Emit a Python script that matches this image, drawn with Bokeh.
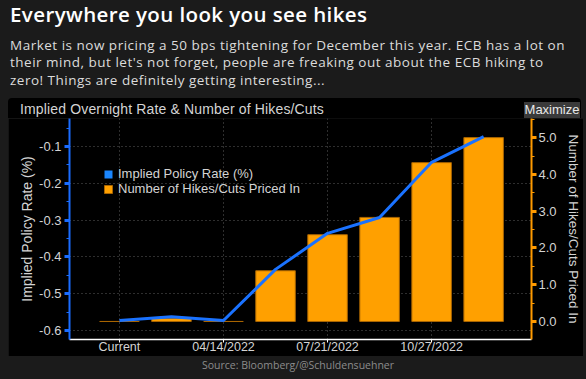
from bokeh.plotting import figure
from bokeh.models import (Range1d, LinearAxis, FixedTicker, PrintfTickFormatter,
                          Legend, LegendItem, ColumnDataSource, Div)
from bokeh.layouts import column
from bokeh.embed import file_html
from bokeh.resources import INLINE

# ---------------- data ----------------
meetings = ["Current", "03/10/2022", "04/14/2022", "06/09/2022",
            "07/21/2022", "09/08/2022", "10/27/2022", "12/15/2022"]
xpos = [0, 1, 2, 3, 4, 5, 6, 7]
implied_rate = [-0.573, -0.563, -0.573, -0.434, -0.336, -0.293, -0.143, -0.073]
hikes_priced = [0.0, 0.09, 0.0, 1.38, 2.36, 2.83, 4.32, 5.0]

x_tick_pos = [0, 2, 4, 6]
x_tick_labels = ["Current", "04/14/2022", "07/21/2022", "10/27/2022"]
left_ticks = [-0.6, -0.5, -0.4, -0.3, -0.2, -0.1]
left_minor = [-0.6, -0.55, -0.5, -0.45, -0.4, -0.35, -0.3, -0.25, -0.2, -0.15, -0.1, -0.05]
right_ticks = [0, 1, 2, 3, 4, 5]
right_minor = [-0.5, 0, 0.5, 1, 1.5, 2, 2.5, 3, 3.5, 4, 4.5, 5, 5.5]

title_text = "Everywhere you look you see hikes"
subtitle_lines = ["Market is now pricing a 50 bps tightening for December this year. ECB has a lot on",
                  "their mind, but let's not forget, people are freaking out about the ECB hiking to",
                  "zero! Things are definitely getting interesting..."]
chart_title = "Implied Overnight Rate &amp; Number of Hikes/Cuts"
button_text = "Maximize"
source_text = "Source: Bloomberg/@Schuldensuehner"

src = ColumnDataSource(dict(x=xpos, rate=implied_rate, hikes=hikes_priced,
                            label=meetings))

CF = "Liberation Sans"
TXT = "#d4d4d4"
PANEL_W = 573

p = figure(frame_width=462, frame_height=221, x_range=Range1d(-0.96, 7.92),
           y_range=Range1d(-0.6245, -0.024), title=None,
           output_backend="svg", toolbar_location=None,
           min_border_left=61, min_border_right=PANEL_W - 61 - 462, min_border_top=0,
           min_border_bottom=16,
           background_fill_color="black", border_fill_color="black",
           outline_line_color=None, margin=0)
p.extra_y_ranges = {"hikes": Range1d(-0.49, 5.52)}

# bars (right axis) then line (left axis)
bars = p.vbar(x="x", top="hikes", bottom=0, width=0.76, source=src,
              y_range_name="hikes", fill_color="#ffa000", line_color="#a86400",
              line_width=1)
line = p.line(x="x", y="rate", source=src, line_color="#1a72ff", line_width=3)
# zero-size glyph used only as the blue legend swatch
legend_blue = p.vbar(x="x", top="rate", bottom="rate", width=0, source=src,
                     fill_color="#1a86ff", line_color=None)

# bottom axis
xa = p.xaxis[0]
xa.ticker = FixedTicker(ticks=x_tick_pos)
xa.major_label_overrides = {t: l for t, l in zip(x_tick_pos, x_tick_labels)}
xa.axis_line_color = "white"
xa.axis_line_width = 1.5
xa.major_tick_line_color = "white"
xa.major_tick_out = 3
xa.major_tick_in = 0
xa.minor_tick_line_color = None
xa.major_label_standoff = -3
xa.major_label_text_color = TXT
xa.major_label_text_font = CF
xa.major_label_text_font_size = "12.5px"

# left axis
ya = p.yaxis[0]
ya.ticker = FixedTicker(ticks=left_ticks, minor_ticks=left_minor)
ya.formatter = PrintfTickFormatter(format="%.1f")
ya.axis_line_color = "#1a6cff"
ya.axis_line_width = 2
ya.major_tick_line_color = "#1a6cff"
ya.major_tick_line_width = 3
ya.major_tick_out = 5
ya.major_tick_in = 0
ya.minor_tick_line_color = "#1a6cff"
ya.minor_tick_out = 3
ya.minor_tick_in = 0
ya.major_label_standoff = 3
ya.major_label_text_color = TXT
ya.major_label_text_font = CF
ya.major_label_text_font_size = "13px"
ya.axis_label = "Implied Policy Rate (%)"
ya.axis_label_text_color = TXT
ya.axis_label_text_font = CF
ya.axis_label_text_font_size = "14px"
ya.axis_label_text_font_style = "normal"
ya.axis_label_standoff = 1

# right axis
ra = LinearAxis(y_range_name="hikes",
                ticker=FixedTicker(ticks=right_ticks, minor_ticks=right_minor),
                formatter=PrintfTickFormatter(format="%.1f"))
ra.axis_line_color = "#ff9a00"
ra.axis_line_width = 2
ra.major_tick_line_color = "#ff9a00"
ra.major_tick_line_width = 3
ra.major_tick_out = 5
ra.major_tick_in = 0
ra.minor_tick_line_color = "#ff9a00"
ra.minor_tick_out = 3
ra.minor_tick_in = 0
ra.major_label_standoff = 2
ra.major_label_text_color = TXT
ra.major_label_text_font = CF
ra.major_label_text_font_size = "13px"
ra.axis_label = "Number of Hikes/Cuts Priced In"
ra.axis_label_text_color = TXT
ra.axis_label_text_font = CF
ra.axis_label_text_font_size = "13.5px"
ra.axis_label_text_font_style = "normal"
ra.axis_label_standoff = 6
p.add_layout(ra, "right")

# grids
p.xgrid.ticker = FixedTicker(ticks=x_tick_pos)
p.ygrid.ticker = FixedTicker(ticks=left_ticks)
for g in (p.xgrid[0], p.ygrid[0]):
    g.grid_line_color = "#5c5c5c"
    g.grid_line_dash = "1 3"
    g.grid_line_width = 1

# legend
legend = Legend(items=[LegendItem(label="Implied Policy Rate (%)", renderers=[legend_blue]),
                       LegendItem(label="Number of Hikes/Cuts Priced In", renderers=[bars])],
                location=(34, 143), glyph_width=10, glyph_height=10, label_height=13,
                label_standoff=5, spacing=0, padding=0, margin=0,
                border_line_color=None, background_fill_alpha=0,
                label_text_color=TXT, label_text_font=CF, label_text_font_size="13px")
p.add_layout(legend)

# ---------------- header (page title, text, and the top strip of the chart panel) ----
sub_divs = "".join(
    "<div style=\"position:absolute;left:2px;top:%dpx;height:17.5px;font-family:'Open Sans';"
    "font-size:13.5px;line-height:17.5px;letter-spacing:0.5px;color:#dcdcdc;"
    "white-space:nowrap;\">%s</div>" % (29 + round(i * 17.3), t)
    for i, t in enumerate(subtitle_lines))
header_html = (
    "<div style=\"position:relative;width:%dpx;height:110px;\">" % PANEL_W +
    "<div style=\"position:absolute;left:2px;top:-4px;height:20px;font-family:'Open Sans';"
    "font-size:20.5px;font-weight:600;color:#ffffff;line-height:20px;letter-spacing:0.4px;"
    "white-space:nowrap;\">" + title_text + "</div>" + sub_divs +
    "<div style=\"position:absolute;left:0;top:90px;width:%dpx;height:20px;" % PANEL_W +
    "background:#000000;border-radius:4px 4px 0 0;\">"
    "<div style=\"position:absolute;left:12px;top:4px;height:14px;font-family:'Liberation Sans';"
    "font-size:14px;letter-spacing:0.15px;line-height:14px;color:#d4d4d4;white-space:nowrap;\">"
    + chart_title + "</div>"
    "<div style=\"position:absolute;left:%dpx;top:4px;width:56px;height:16px;" % (PANEL_W - 57) +
    "background:#3a3a3a;font-family:'Liberation Sans';font-size:13px;line-height:16px;"
    "text-align:center;color:#e8e8e8;white-space:nowrap;\">" + button_text + "</div>"
    "</div></div>")
header = Div(text=header_html, width=PANEL_W, height=110, margin=0)

footer_html = ("<div style=\"width:%dpx;text-align:center;font-family:'Open Sans';" % 570 +
               "font-size:10.5px;color:#8c8c8c;line-height:11px;"
               "padding-top:4px;white-space:nowrap;\">"
               "<span style=\"padding-left:10px\">" + source_text + "</span></div>")
footer = Div(text=footer_html, width=570, height=14, margin=0,
             styles={"font-family": "Open Sans"})

layout = column(header, p, footer, spacing=0, styles={"background-color": "#1b1b1b"})

html = file_html(layout, INLINE, title="Everywhere you look you see hikes")
html = html.replace("<head>",
                    "<head><style>html,body{background:#1b1b1b;overflow:hidden;}"
                    "body{padding:8px !important;}</style>", 1)
open("out.html", "w").write(html)
